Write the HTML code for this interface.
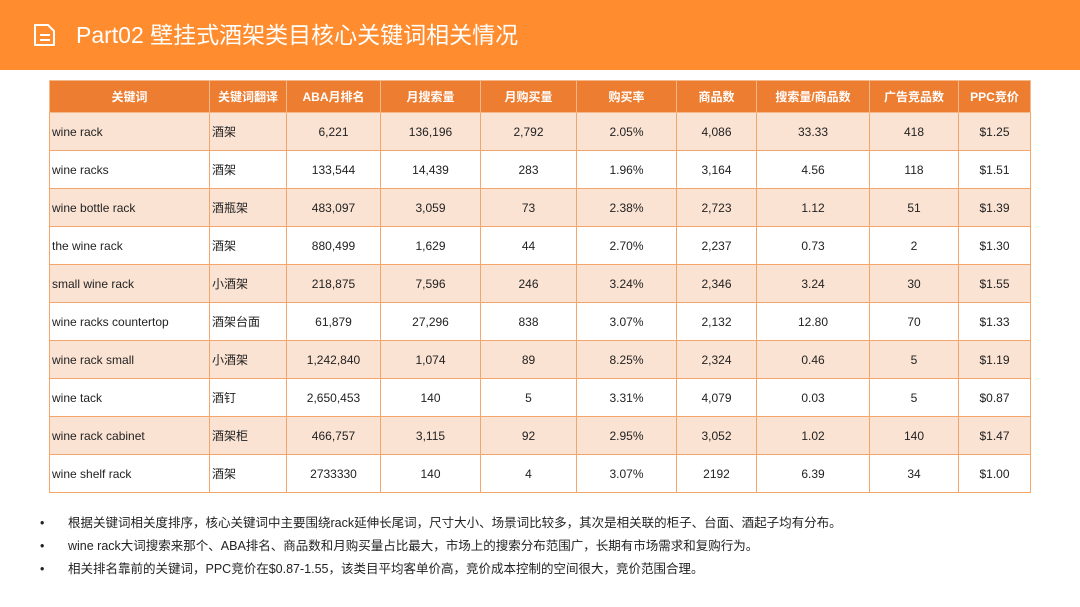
<!DOCTYPE html>
<html><head><meta charset="utf-8"><style>
body{margin:0;width:1080px;height:607px;background:#fff;font-family:"Liberation Sans","Noto Sans CJK SC",sans-serif;position:relative;overflow:hidden}
.bar{position:absolute;left:0;top:0;width:1080px;height:70px;background:#FF8C2E}
.title{position:absolute;left:76px;top:19px;color:#fff;font-size:23px;line-height:32px}
.icon{position:absolute;left:32px;top:22px}
table{position:absolute;left:49px;top:80px;border-collapse:collapse;font-size:12px;color:#222}
td,th{border:1px solid #F4A66A;height:37px;padding:0 2px;text-align:center;white-space:nowrap}
th{background:#ED7D31;color:#fff;font-weight:bold;height:31px;border-color:#F4B98A}
tr.o td{background:#FBE3D3}
td.l{text-align:left}
.notes{position:absolute;left:40px;top:512px;font-size:12.5px;color:#222;line-height:23px}
.notes div span{display:inline-block;width:28px}
</style></head><body>
<div class="bar"></div>
<svg class="icon" width="26" height="26" viewBox="0 0 26 26"><path d="M3 3h13l6 6v14H3z" fill="none" stroke="#fff" stroke-width="2" stroke-linejoin="round"/><path d="M8 13h10M8 18h10" stroke="#fff" stroke-width="2"/></svg>
<div class="title">Part02 壁挂式酒架类目核心关键词相关情况</div>
<table>
<colgroup><col style="width:160px"><col style="width:77px"><col style="width:94px"><col style="width:100px"><col style="width:96px"><col style="width:100px"><col style="width:80px"><col style="width:113px"><col style="width:89px"><col style="width:72px"></colgroup>
<tr><th>关键词</th><th>关键词翻译</th><th>ABA月排名</th><th>月搜索量</th><th>月购买量</th><th>购买率</th><th>商品数</th><th>搜索量/商品数</th><th>广告竞品数</th><th>PPC竞价</th></tr>
<tr class="o"><td class="l">wine rack</td><td class="l">酒架</td><td>6,221</td><td>136,196</td><td>2,792</td><td>2.05%</td><td>4,086</td><td>33.33</td><td>418</td><td>$1.25</td></tr>
<tr><td class="l">wine racks</td><td class="l">酒架</td><td>133,544</td><td>14,439</td><td>283</td><td>1.96%</td><td>3,164</td><td>4.56</td><td>118</td><td>$1.51</td></tr>
<tr class="o"><td class="l">wine bottle rack</td><td class="l">酒瓶架</td><td>483,097</td><td>3,059</td><td>73</td><td>2.38%</td><td>2,723</td><td>1.12</td><td>51</td><td>$1.39</td></tr>
<tr><td class="l">the wine rack</td><td class="l">酒架</td><td>880,499</td><td>1,629</td><td>44</td><td>2.70%</td><td>2,237</td><td>0.73</td><td>2</td><td>$1.30</td></tr>
<tr class="o"><td class="l">small wine rack</td><td class="l">小酒架</td><td>218,875</td><td>7,596</td><td>246</td><td>3.24%</td><td>2,346</td><td>3.24</td><td>30</td><td>$1.55</td></tr>
<tr><td class="l">wine racks countertop</td><td class="l">酒架台面</td><td>61,879</td><td>27,296</td><td>838</td><td>3.07%</td><td>2,132</td><td>12.80</td><td>70</td><td>$1.33</td></tr>
<tr class="o"><td class="l">wine rack small</td><td class="l">小酒架</td><td>1,242,840</td><td>1,074</td><td>89</td><td>8.25%</td><td>2,324</td><td>0.46</td><td>5</td><td>$1.19</td></tr>
<tr><td class="l">wine tack</td><td class="l">酒钉</td><td>2,650,453</td><td>140</td><td>5</td><td>3.31%</td><td>4,079</td><td>0.03</td><td>5</td><td>$0.87</td></tr>
<tr class="o"><td class="l">wine rack cabinet</td><td class="l">酒架柜</td><td>466,757</td><td>3,115</td><td>92</td><td>2.95%</td><td>3,052</td><td>1.02</td><td>140</td><td>$1.47</td></tr>
<tr><td class="l">wine shelf rack</td><td class="l">酒架</td><td>2733330</td><td>140</td><td>4</td><td>3.07%</td><td>2192</td><td>6.39</td><td>34</td><td>$1.00</td></tr>
</table>
<div class="notes">
<div><span>•</span>根据关键词相关度排序，核心关键词中主要围绕rack延伸长尾词，尺寸大小、场景词比较多，其次是相关联的柜子、台面、酒起子均有分布。</div>
<div><span>•</span>wine rack大词搜索来那个、ABA排名、商品数和月购买量占比最大，市场上的搜索分布范围广，长期有市场需求和复购行为。</div>
<div><span>•</span>相关排名靠前的关键词，PPC竞价在$0.87-1.55，该类目平均客单价高，竞价成本控制的空间很大，竞价范围合理。</div>
</div>
</body></html>
